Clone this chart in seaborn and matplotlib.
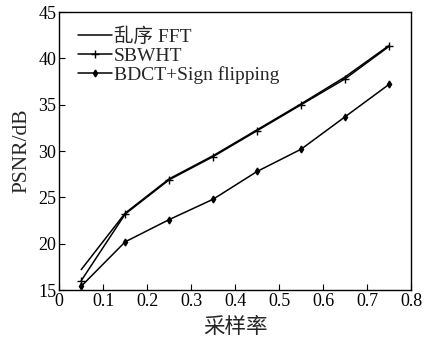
import numpy as np
import pandas as pd
import matplotlib
matplotlib.use('Agg')
import matplotlib.pyplot as plt
import seaborn as sns

rates = [0.05, 0.15, 0.25, 0.35, 0.45, 0.55, 0.65, 0.75]
psnr_fft = [17.2, 23.3, 27.0, 29.5, 32.3, 35.1, 38.0, 41.4]
psnr_sbwht = [16.0, 23.2, 26.9, 29.4, 32.2, 35.0, 37.8, 41.3]
psnr_bdct = [15.4, 20.2, 22.6, 24.8, 27.8, 30.2, 33.7, 37.2]
methods = ['乱序 FFT', 'SBWHT', 'BDCT+Sign flipping']

sns.set_style('ticks')
plt.rcParams['font.family'] = ['Liberation Serif', 'Noto Sans CJK SC']
plt.rcParams['xtick.direction'] = 'in'
plt.rcParams['ytick.direction'] = 'in'

fig, ax = plt.subplots(figsize=(4.29, 3.38), dpi=100)
# one call per series, the markers differ in kind
styles = [(None, 6), ('+', 6), ('d', 3.5)]
for name, vals, (mk, ms) in zip(methods, [psnr_fft, psnr_sbwht, psnr_bdct], styles):
    sns.lineplot(x=rates, y=vals, color='black', marker=mk, markersize=ms,
                 markeredgewidth=1.0, markeredgecolor='black',
                 linewidth=1.1, label=name, ax=ax)

ax.set_xlim(0, 0.8)
ax.set_ylim(15, 45)
ax.set_xticks(np.arange(0, 0.81, 0.1))
ax.set_xticklabels(['0', '0.1', '0.2', '0.3', '0.4', '0.5', '0.6', '0.7', '0.8'])
ax.set_yticks(range(15, 46, 5))
ax.tick_params(labelsize=13, length=4, width=0.8, colors='black', pad=2)
ax.set_xlabel('采样率', fontsize=15.5, labelpad=6)
ax.set_ylabel('PSNR/dB', fontsize=15.5, labelpad=5)
for s in ax.spines.values():
    s.set_linewidth(1.0)
    s.set_color('black')

leg = ax.legend(loc='upper left', bbox_to_anchor=(0.01, 1.0), fontsize=14,
                frameon=False, handlelength=1.75, borderpad=0.3,
                labelspacing=0.05, handletextpad=0.1)

fig.subplots_adjust(left=0.138, right=0.958, top=0.964, bottom=0.142)
fig.savefig('out.png', dpi=100)
